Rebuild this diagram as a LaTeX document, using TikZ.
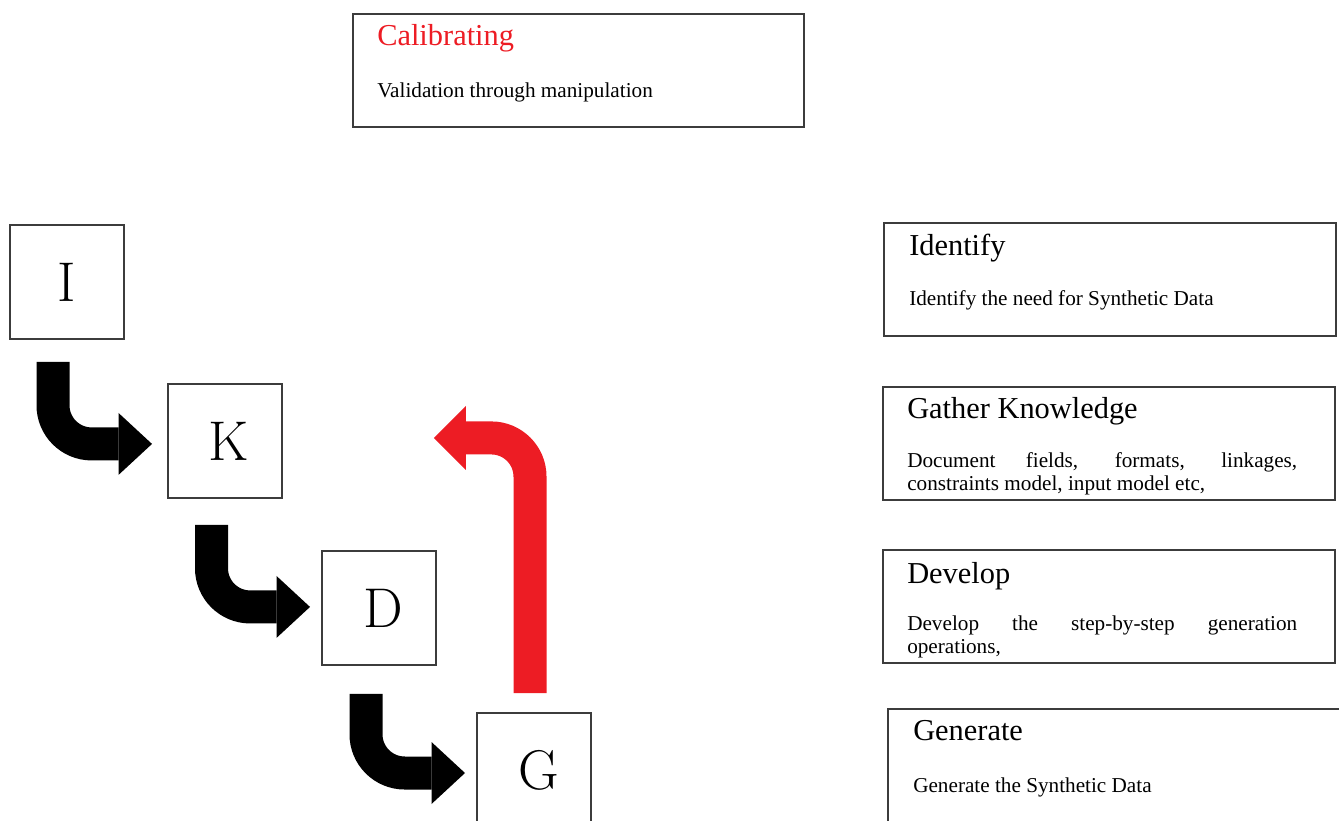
\documentclass[tikz,border=0pt]{standalone}
\usepackage{fontspec}
\newfontfamily\serif{Liberation Serif}
\usetikzlibrary{calc}
\definecolor{myred}{HTML}{ED1C24}
\definecolor{boxline}{HTML}{3C3C3C}
\tikzset{
  box/.style={draw=boxline, line width=1.4pt, inner sep=0pt, anchor=north west},
  letterbox/.style={box, minimum width=85.5pt, minimum height=85.5pt, font=\fontsize{42}{44}\selectfont},
  infobox/.style={box, minimum width=339pt, minimum height=85pt},
  title/.style={anchor=base west, inner sep=0pt, font=\serif\fontsize{22.8}{26}\selectfont},
  body/.style={anchor=base west, inner sep=0pt, font=\serif\fontsize{15.9}{17}\selectfont},
  shaft/.style={line width=24.75pt, rounded corners=29pt},
}
\newcommand\bendarr[3]{%
  \draw[shaft, #1] (#2) |- ($(#3)+(-33.5,0)$);
  \fill[#1] ($(#3)+(-33.5,-31)$) -- (#3) -- ($(#3)+(-33.5,31)$) -- cycle;}
\begin{document}
\begin{tikzpicture}[x=0.75pt, y=-0.75pt]
\useasboundingbox (0,0) rectangle (1339,821);
% letter boxes
\node[letterbox] (I) at (9,224) {I};
\node[letterbox] (K) at (167,383) {\hspace{6pt}K};
\node[letterbox] (D) at (321,550) {\hspace{7pt}D};
\node[letterbox, minimum height=86.25pt] (G) at (476,712) {\hspace{7pt}G};
% info boxes
\node[infobox, minimum width=338.25pt] (cal) at (352,13) {};
\node[infobox] (ident) at (883,222) {};
\node[infobox] (gath) at (882,386) {};
\node[infobox] (dev) at (882,549) {};
\node[infobox, minimum width=342pt, minimum height=87pt] (gen) at (887,708) {};
% texts
\node[title, text=myred] (calT) at (377,45) {Calibrating};
\node[body] (calB) at (377,97) {Validation through manipulation};
\node[title] (identT) at (909,255) {Identify};
\node[body] (identB) at (909,305) {Identify the need for Synthetic Data};
\node[title] (gathT) at (907,418) {Gather Knowledge};
\node[body] (gathB1) at (907,467) {\makebox[292.5pt][s]{Document fields, formats, linkages,}};
\node[body] (gathB2) at (907,490) {constraints model, input model etc,};
\node[title] (devT) at (907,583) {Develop};
\node[body] (devB1) at (907,630) {\makebox[292.5pt][s]{Develop the step-by-step generation}};
\node[body] (devB2) at (907,653) {operations,};
\node[title] (genT) at (913,740) {Generate};
\node[body] (genB) at (913,792) {Generate the Synthetic Data};
% black bent arrows
\coordinate (a1s) at ($(I.south west)+(44,22)$);
\coordinate (a1t) at ($(K.west)+(-15,3)$);
\bendarr{black}{a1s}{a1t}
\coordinate (a2s) at ($(K.south west)+(44.5,26)$);
\coordinate (a2t) at ($(D.west)+(-11,-1)$);
\bendarr{black}{a2s}{a2t}
\coordinate (a3s) at ($(D.south west)+(45,28)$);
\coordinate (a3t) at ($(G.north west)+(-11,61)$);
\bendarr{black}{a3s}{a3t}
% red return arrow
\coordinate (rs) at ($(G.north west)+(54,-19)$);
\coordinate (rt) at ($(K.east)+(151,-3)$);
\draw[shaft, myred] (rs) |- ($(rt)+(32,0)$);
\fill[myred] ($(rt)+(32,-32)$) -- (rt) -- ($(rt)+(32,32)$) -- cycle;
\end{tikzpicture}
\end{document}
